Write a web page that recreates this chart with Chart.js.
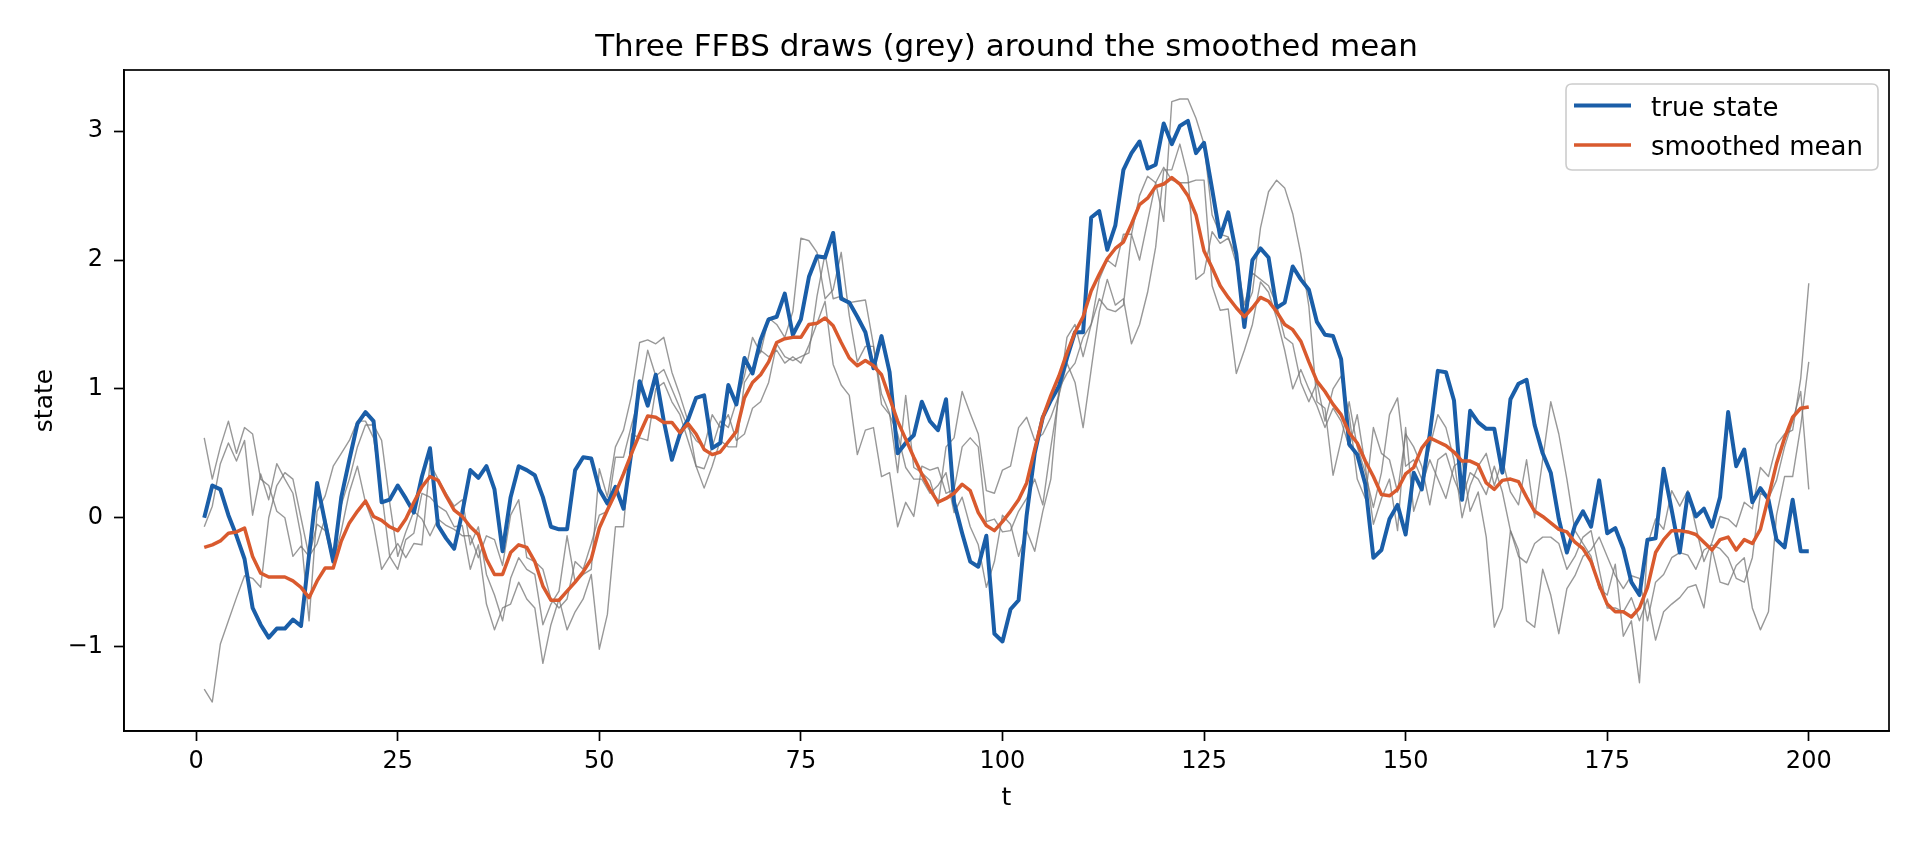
<!DOCTYPE html>
<html>
<head>
<meta charset="utf-8">
<script src="https://cdn.jsdelivr.net/npm/chart.js@4.4.1/dist/chart.umd.min.js"></script>
<style>
  html, body { margin: 0; padding: 0; background: #ffffff; overflow: hidden; }
  #wrap { position: absolute; left: 0; top: 0; width: 1920px; height: 844px; }
</style>
</head>
<body>
<div id="wrap"><canvas id="c" width="1920" height="844"></canvas></div>
<script>
// ---------------- data ----------------
const chartTitle = "Three FFBS draws (grey) around the smoothed mean";
const xLabel = "t";
const yLabel = "state";
const xTicks = [0, 25, 50, 75, 100, 125, 150, 175, 200];
const yTicks = [-1, 0, 1, 2, 3];
const seriesNames = ["true state", "smoothed mean"];

const trueState = [
  0.00, 0.25, 0.22, 0.02, -0.14, -0.32, -0.70, -0.83, -0.93, -0.86,
  -0.86, -0.79, -0.84, -0.29, 0.27, -0.04, -0.34, 0.16, 0.45, 0.73,
  0.82, 0.75, 0.12, 0.14, 0.25, 0.15, 0.04, 0.32, 0.54, -0.06,
  -0.16, -0.24, 0.04, 0.37, 0.31, 0.40, 0.22, -0.26, 0.16, 0.40,
  0.37, 0.33, 0.16, -0.07, -0.09, -0.09, 0.37, 0.47, 0.46, 0.22,
  0.11, 0.24, 0.07, 0.52, 1.06, 0.87, 1.11, 0.75, 0.45, 0.65,
  0.76, 0.93, 0.95, 0.54, 0.58, 1.03, 0.88, 1.24, 1.12, 1.38,
  1.54, 1.56, 1.74, 1.42, 1.54, 1.87, 2.03, 2.02, 2.21, 1.70,
  1.67, 1.56, 1.44, 1.16, 1.41, 1.13, 0.50, 0.58, 0.64, 0.90,
  0.75, 0.68, 0.92, 0.12, -0.12, -0.34, -0.38, -0.14, -0.90, -0.96,
  -0.71, -0.64, 0.02, 0.50, 0.78, 0.91, 1.02, 1.24, 1.44, 1.44,
  2.33, 2.38, 2.08, 2.27, 2.70, 2.83, 2.92, 2.71, 2.74, 3.06,
  2.90, 3.04, 3.08, 2.83, 2.91, 2.55, 2.18, 2.37, 2.05, 1.48,
  2.00, 2.09, 2.02, 1.63, 1.67, 1.95, 1.85, 1.77, 1.52, 1.42,
  1.41, 1.23, 0.57, 0.49, 0.26, -0.31, -0.25, -0.01, 0.10, -0.13,
  0.35, 0.22, 0.65, 1.14, 1.13, 0.91, 0.14, 0.83, 0.74, 0.69,
  0.69, 0.35, 0.92, 1.04, 1.07, 0.72, 0.50, 0.35, -0.01, -0.27,
  -0.06, 0.05, -0.07, 0.29, -0.12, -0.08, -0.24, -0.50, -0.60, -0.17,
  -0.16, 0.38, 0.06, -0.27, 0.19, 0.01, 0.07, -0.07, 0.16, 0.82,
  0.40, 0.53, 0.12, 0.23, 0.14, -0.17, -0.23, 0.14, -0.26, -0.26
];

const smoothedMean = [
  -0.23, -0.21, -0.18, -0.12, -0.11, -0.08, -0.30, -0.43, -0.46, -0.46,
  -0.46, -0.49, -0.54, -0.62, -0.49, -0.39, -0.39, -0.18, -0.04, 0.05,
  0.13, 0.01, -0.02, -0.07, -0.10, -0.01, 0.12, 0.24, 0.32, 0.29,
  0.17, 0.06, 0.01, -0.07, -0.13, -0.32, -0.44, -0.44, -0.27, -0.21,
  -0.23, -0.34, -0.53, -0.64, -0.64, -0.57, -0.50, -0.42, -0.32, -0.08,
  0.06, 0.19, 0.34, 0.50, 0.65, 0.79, 0.78, 0.74, 0.74, 0.66,
  0.73, 0.65, 0.53, 0.49, 0.51, 0.59, 0.67, 0.93, 1.05, 1.11,
  1.21, 1.36, 1.39, 1.40, 1.40, 1.50, 1.51, 1.55, 1.49, 1.36,
  1.24, 1.18, 1.22, 1.18, 1.11, 0.93, 0.75, 0.61, 0.47, 0.34,
  0.22, 0.12, 0.15, 0.19, 0.26, 0.21, 0.04, -0.06, -0.10, -0.03,
  0.05, 0.14, 0.27, 0.53, 0.78, 0.95, 1.10, 1.28, 1.44, 1.56,
  1.76, 1.89, 2.01, 2.09, 2.14, 2.28, 2.43, 2.48, 2.57, 2.59,
  2.64, 2.59, 2.50, 2.35, 2.07, 1.94, 1.80, 1.71, 1.63, 1.56,
  1.63, 1.71, 1.68, 1.60, 1.50, 1.46, 1.37, 1.21, 1.06, 0.98,
  0.88, 0.80, 0.66, 0.58, 0.44, 0.32, 0.18, 0.17, 0.22, 0.34,
  0.39, 0.54, 0.62, 0.59, 0.56, 0.51, 0.44, 0.44, 0.41, 0.27,
  0.22, 0.29, 0.30, 0.28, 0.16, 0.05, 0.01, -0.04, -0.09, -0.11,
  -0.19, -0.24, -0.34, -0.52, -0.67, -0.73, -0.73, -0.77, -0.70, -0.54,
  -0.27, -0.17, -0.10, -0.10, -0.11, -0.13, -0.19, -0.25, -0.17, -0.15,
  -0.25, -0.17, -0.20, -0.09, 0.16, 0.42, 0.62, 0.78, 0.85, 0.86
];

const draw1 = [
  -0.07, 0.09, 0.42, 0.58, 0.44, 0.60, 0.02, 0.34, 0.14, 0.42,
  0.30, 0.19, -0.14, -0.80, 0.05, 0.17, 0.40, 0.50, 0.60, 0.75,
  0.75, 0.62, 0.20, -0.30, -0.20, -0.31, -0.20, -0.21, 0.42, 0.30,
  0.19, 0.09, 0.14, -0.21, -0.07, -0.44, -0.60, -0.80, -0.47, -0.31,
  -0.40, -0.44, -0.83, -0.67, -0.57, -0.14, -0.50, -0.44, -0.40, 0.38,
  0.16, 0.55, 0.68, 0.95, 1.36, 1.38, 1.35, 1.40, 1.13, 0.95,
  0.75, 0.40, 0.38, 0.55, 0.75, 0.70, 0.90, 1.10, 1.40, 1.28,
  1.55, 1.50, 1.40, 1.60, 2.17, 2.15, 2.06, 1.70, 1.77, 2.06,
  1.57, 1.21, 1.33, 1.33, 0.96, 0.81, 0.35, 0.95, 0.39, 0.35,
  0.29, 0.09, 0.55, 0.62, 0.98, 0.81, 0.65, 0.21, 0.19, 0.37,
  0.40, 0.70, 0.78, 0.60, 0.65, 0.78, 0.95, 1.40, 1.50, 1.25,
  1.50, 1.70, 1.62, 1.60, 1.65, 2.20, 2.00, 2.30, 2.60, 2.30,
  3.23, 3.25, 3.25, 3.10, 2.90, 2.35, 2.20, 2.18, 1.97, 1.60,
  1.75, 2.25, 2.53, 2.62, 2.56, 2.36, 2.05, 1.64, 0.90, 0.85,
  0.33, 0.60, 0.90, 0.55, 0.35, 0.08, 0.35, 0.80, 0.93, 0.40,
  0.45, 0.30, 0.55, 0.80, 0.70, 0.45, 0.00, 0.25, 0.40, 0.50,
  0.25, 0.45, 0.20, 0.10, 0.45, 0.00, 0.45, 0.90, 0.65, 0.30,
  -0.10, -0.20, -0.30, -0.55, -0.60, -0.36, -0.92, -0.80, -1.28, -0.21,
  -0.01, -0.09, 0.21, 0.09, 0.21, -0.07, -0.34, -0.19, 0.01, -0.01,
  -0.07, 0.12, 0.07, 0.39, 0.32, 0.57, 0.65, 0.68, 1.08, 1.82
];

const draw2 = [
  0.62, 0.30, 0.55, 0.75, 0.50, 0.70, 0.65, 0.30, 0.25, 0.05,
  0.00, -0.30, -0.22, -0.30, -0.05, -0.10, -0.35, -0.10, 0.20, 0.40,
  0.12, -0.05, -0.40, -0.30, -0.40, -0.17, -0.12, 0.19, 0.16, 0.09,
  0.05, -0.07, -0.06, -0.40, -0.21, -0.67, -0.87, -0.70, -0.67, -0.50,
  -0.63, -0.70, -1.13, -0.83, -0.63, -0.87, -0.73, -0.63, -0.44, -1.02,
  -0.75, -0.07, -0.07, 0.65, 0.62, 0.60, 1.00, 1.05, 0.90, 0.80,
  0.60, 0.40, 0.23, 0.40, 0.60, 0.55, 0.55, 1.05, 1.15, 1.30,
  1.25, 1.30, 1.20, 1.25, 1.20, 1.34, 1.51, 1.68, 1.19, 1.03,
  0.95, 0.49, 0.68, 0.70, 0.32, 0.35, -0.07, 0.12, 0.01, 0.40,
  0.37, 0.39, 0.19, 0.22, 0.55, 0.62, 0.55, -0.03, -0.01, -0.11,
  -0.10, 0.05, 0.15, 0.30, 0.10, 0.55, 0.95, 1.20, 1.05, 0.70,
  1.15, 1.60, 1.85, 1.65, 1.70, 1.35, 1.50, 1.75, 2.10, 2.70,
  2.70, 2.90, 2.65, 1.85, 1.90, 2.22, 2.13, 2.17, 2.03, 1.65,
  1.90, 1.85, 1.80, 1.65, 1.40, 1.35, 1.05, 0.90, 1.05, 0.75,
  1.00, 1.10, 0.80, 0.30, 0.15, 0.70, 0.50, 0.45, 0.20, 0.65,
  0.55, 0.40, 0.10, 0.45, 0.50, 0.30, 0.15, 0.35, 0.30, 0.18,
  0.40, 0.20, -0.10, -0.30, -0.35, -0.20, -0.15, -0.15, -0.20, -0.40,
  -0.30, -0.15, -0.10, -0.40, -0.70, -0.70, -0.73, -0.62, -0.80, -0.63,
  -0.95, -0.73, -0.67, -0.62, -0.54, -0.52, -0.70, -0.24, -0.50, -0.52,
  -0.37, -0.31, -0.70, -0.87, -0.73, 0.02, 0.32, 0.32, 0.71, 1.21
];

const draw3 = [
  -1.33, -1.43, -0.98, -0.80, -0.62, -0.45, -0.47, -0.54, 0.00, 0.25,
  0.35, 0.30, 0.00, -0.30, -0.20, 0.00, -0.30, 0.10, 0.30, 0.55,
  0.72, 0.72, 0.60, 0.12, -0.30, -0.11, 0.05, -0.01, -0.14, -0.01,
  -0.06, -0.09, -0.14, -0.14, -0.31, -0.14, -0.17, -0.37, 0.02, 0.14,
  -0.31, -0.34, -0.40, -0.63, -0.70, -0.63, -0.34, -0.40, -0.20, 0.02,
  0.05, 0.47, 0.47, 0.72, 0.95, 1.30, 1.10, 1.15, 1.00, 0.85,
  0.70, 0.60, 0.55, 0.80, 0.70, 0.80, 0.60, 0.65, 0.85, 0.90,
  1.05, 1.35, 1.25, 1.22, 1.25, 1.28, 1.72, 2.05, 1.70, 1.72,
  1.67, 1.68, 1.69, 1.34, 0.88, 0.80, 0.65, 0.39, 0.30, 0.30,
  0.19, 0.25, 0.35, 0.04, 0.16, -0.07, -0.21, -0.54, -0.34, 0.02,
  -0.05, -0.30, -0.10, -0.26, 0.05, 0.30, 1.00, 1.12, 1.20, 1.40,
  1.50, 1.85, 2.00, 1.95, 2.20, 2.20, 2.50, 2.65, 2.60, 2.72,
  2.62, 2.60, 2.60, 2.62, 2.62, 1.80, 1.61, 1.62, 1.12, 1.30,
  1.50, 1.83, 1.75, 1.55, 1.30, 1.00, 1.15, 1.00, 0.87, 0.70,
  0.85, 0.75, 0.55, 0.80, 0.40, -0.05, 0.15, 0.30, -0.10, 0.70,
  0.05, 0.25, 0.45, 0.30, 0.15, 0.40, 0.45, 0.05, 0.20, -0.15,
  -0.85, -0.70, -0.10, -0.25, -0.80, -0.85, -0.40, -0.60, -0.90, -0.55,
  -0.45, -0.30, -0.25, -0.15, -0.30, -0.45, -0.55, -0.45, -0.47, -0.80,
  -0.50, -0.44, -0.31, -0.27, -0.29, -0.40, -0.25, -0.21, -0.24, -0.31,
  -0.47, -0.50, -0.31, 0.19, 0.15, 0.29, 0.55, 0.75, 0.98, 0.22
];

const tIndex = trueState.map((_, i) => i + 1);

// ---------------- chart ----------------
const BLUE = "#1a5ea8";
const ORANGE = "#d95a2e";
const GREY = "rgba(118,118,118,0.75)";
const FONT = "'DejaVu Sans', 'Liberation Sans', sans-serif";

function pts(arr) { return arr.map((v, i) => ({ x: tIndex[i], y: v })); }

const frame = {
  id: "frame",
  afterDatasetsDraw(chart) {
    const { ctx, chartArea: a } = chart;
    ctx.save();
    ctx.strokeStyle = "#000";
    ctx.lineWidth = 1.7;
    ctx.strokeRect(a.left, a.top, a.right - a.left, a.bottom - a.top);
    ctx.restore();
  },
  afterDraw(chart) {
    const { ctx, chartArea: a } = chart;
    ctx.save();
    // title
    ctx.fillStyle = "#000";
    ctx.font = "31px " + FONT;
    ctx.textAlign = "center";
    ctx.textBaseline = "alphabetic";
    ctx.fillText(chartTitle, (a.left + a.right) / 2, 56);
    // legend
    const bx = 1566, by = 84, bw = 312, bh = 86, r = 6;
    ctx.fillStyle = "rgba(255,255,255,0.8)";
    ctx.strokeStyle = "#cccccc";
    ctx.lineWidth = 1.6;
    ctx.beginPath();
    ctx.moveTo(bx + r, by);
    ctx.lineTo(bx + bw - r, by);
    ctx.quadraticCurveTo(bx + bw, by, bx + bw, by + r);
    ctx.lineTo(bx + bw, by + bh - r);
    ctx.quadraticCurveTo(bx + bw, by + bh, bx + bw - r, by + bh);
    ctx.lineTo(bx + r, by + bh);
    ctx.quadraticCurveTo(bx, by + bh, bx, by + bh - r);
    ctx.lineTo(bx, by + r);
    ctx.quadraticCurveTo(bx, by, bx + r, by);
    ctx.closePath();
    ctx.fill();
    ctx.stroke();
    const items = seriesNames.map(n => chart.data.datasets.find(d => d.label === n));
    const rows = [105.5, 145];
    ctx.font = "26px " + FONT;
    ctx.textAlign = "left";
    ctx.textBaseline = "alphabetic";
    items.forEach((d, i) => {
      ctx.strokeStyle = d.borderColor;
      ctx.lineWidth = d.borderWidth;
      ctx.beginPath();
      ctx.moveTo(1574, rows[i]);
      ctx.lineTo(1631, rows[i]);
      ctx.stroke();
      ctx.fillStyle = "#000";
      ctx.fillText(d.label, 1651, rows[i] + 10);
    });
    ctx.restore();
  }
};

const fmt = v => (v < 0 ? "\u2212" + Math.abs(v) : String(v));

new Chart(document.getElementById("c"), {
  type: "line",
  data: {
    datasets: [
      { label: seriesNames[1], data: pts(smoothedMean), borderColor: ORANGE, borderWidth: 3.5, order: 0 },
      { label: seriesNames[0], data: pts(trueState), borderColor: BLUE, borderWidth: 4.0, order: 1 },
      { label: "draw 1", data: pts(draw1), borderColor: GREY, borderWidth: 1.4, order: 2 },
      { label: "draw 2", data: pts(draw2), borderColor: GREY, borderWidth: 1.4, order: 3 },
      { label: "draw 3", data: pts(draw3), borderColor: GREY, borderWidth: 1.4, order: 4 }
    ].map(d => Object.assign({ pointRadius: 0, fill: false, tension: 0, borderJoinStyle: "round", borderCapStyle: "butt" }, d))
  },
  options: {
    responsive: false,
    animation: false,
    devicePixelRatio: 1,
    layout: { padding: { left: 0, right: 31, top: 70, bottom: 0 } },
    plugins: { legend: { display: false }, tooltip: { enabled: false }, title: { display: false } },
    scales: {
      x: {
        type: "linear",
        min: -8.95,
        max: 209.95,
        afterBuildTicks: s => { s.ticks = xTicks.map(v => ({ value: v })); },
        afterFit: s => { s.height = 113; },
        ticks: { callback: fmt, color: "#000", font: { family: FONT, size: 24 }, padding: 6, maxRotation: 0, autoSkip: false },
        grid: { display: true, drawOnChartArea: false, drawTicks: true, tickLength: 10, tickWidth: 1.7, tickColor: "#000" },
        border: { display: true, color: "#000", width: 1.7 },
        title: { display: true, text: xLabel, color: "#000", font: { family: FONT, size: 25 }, padding: { top: 0, bottom: 31 } }
      },
      y: {
        type: "linear",
        min: -1.655,
        max: 3.475,
        afterBuildTicks: s => { s.ticks = yTicks.map(v => ({ value: v })); },
        afterFit: s => { s.width = 124; },
        ticks: { callback: fmt, color: "#000", font: { family: FONT, size: 24 }, padding: 11, autoSkip: false },
        grid: { display: true, drawOnChartArea: false, drawTicks: true, tickLength: 10, tickWidth: 1.7, tickColor: "#000" },
        border: { display: true, color: "#000", width: 1.7 },
        title: { display: true, text: yLabel, color: "#000", font: { family: FONT, size: 25 }, padding: { top: 30, bottom: 0 } }
      }
    }
  },
  plugins: [frame]
});
</script>
</body>
</html>
